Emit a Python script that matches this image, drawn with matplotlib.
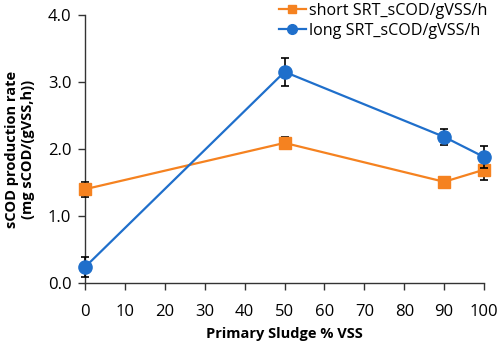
import matplotlib
matplotlib.use("Agg")
import matplotlib.pyplot as plt
from matplotlib.lines import Line2D

plt.rcParams['font.family'] = ['Open Sans', 'DejaVu Sans']

x = [0, 50, 90, 100]
short_vals = [1.40, 2.09, 1.51, 1.69]
short_err = [0.11, 0.09, 0.03, 0.15]
long_vals = [0.24, 3.15, 2.18, 1.88]
long_err = [0.15, 0.21, 0.12, 0.16]
short_label = "short SRT_sCOD/gVSS/h"
long_label = "long SRT_sCOD/gVSS/h"
xticks = list(range(0, 101, 10))
yticks = [0.0, 1.0, 2.0, 3.0, 4.0]

fig = plt.figure(figsize=(4.98, 3.46), dpi=100)
ax = fig.add_axes([0.171, 0.182, 0.801, 0.775])

orange = '#F58220'
blue = '#1F6FCB'
ax.errorbar(x, short_vals, yerr=short_err, color=orange, marker='s', markersize=8.5,
            lw=1.6, ecolor='black', elinewidth=1.2, capsize=3, capthick=1.2,
            zorder=3)
ax.errorbar(x, long_vals, yerr=long_err, color=blue, marker='o', markersize=9.5,
            lw=1.6, ecolor='black', elinewidth=1.2, capsize=3, capthick=1.2,
            zorder=4)

ax.set_xlim(0, 100)
ax.set_ylim(0, 4.0)
ax.set_xticks(xticks)
ax.set_yticks(yticks)
ax.set_yticklabels([f"{v:.1f}" for v in yticks])
ax.tick_params(labelsize=12, length=5, width=1, color='#333333')
ax.tick_params(axis='x', pad=10)
ax.tick_params(axis='y', pad=5)
for s in ['top', 'right']:
    ax.spines[s].set_visible(False)
for s in ['left', 'bottom']:
    ax.spines[s].set_linewidth(1)
    ax.spines[s].set_color('#333333')

ax.set_xlabel("Primary Sludge % VSS", fontsize=10.5, fontweight='bold', labelpad=5)
ax.set_ylabel("sCOD production rate\n(mg sCOD/(gVSS,h))", fontsize=10.5,
              fontweight='bold', labelpad=9, linespacing=1.15)
for line in ax.get_lines():
    line.set_clip_on(False)
for coll in ax.collections:
    coll.set_clip_on(False)

handles = [Line2D([], [], color=orange, marker='s', markersize=6, lw=1.6),
           Line2D([], [], color=blue, marker='o', markersize=7, lw=1.6)]
leg = ax.legend(handles, [short_label, long_label], loc='upper right',
                bbox_to_anchor=(1.025, 1.07), frameon=False,
                fontsize=11.6, handlelength=1.7, handletextpad=0.2, labelspacing=0.25,
                borderaxespad=0)
fig.savefig("out.png", dpi=100)
